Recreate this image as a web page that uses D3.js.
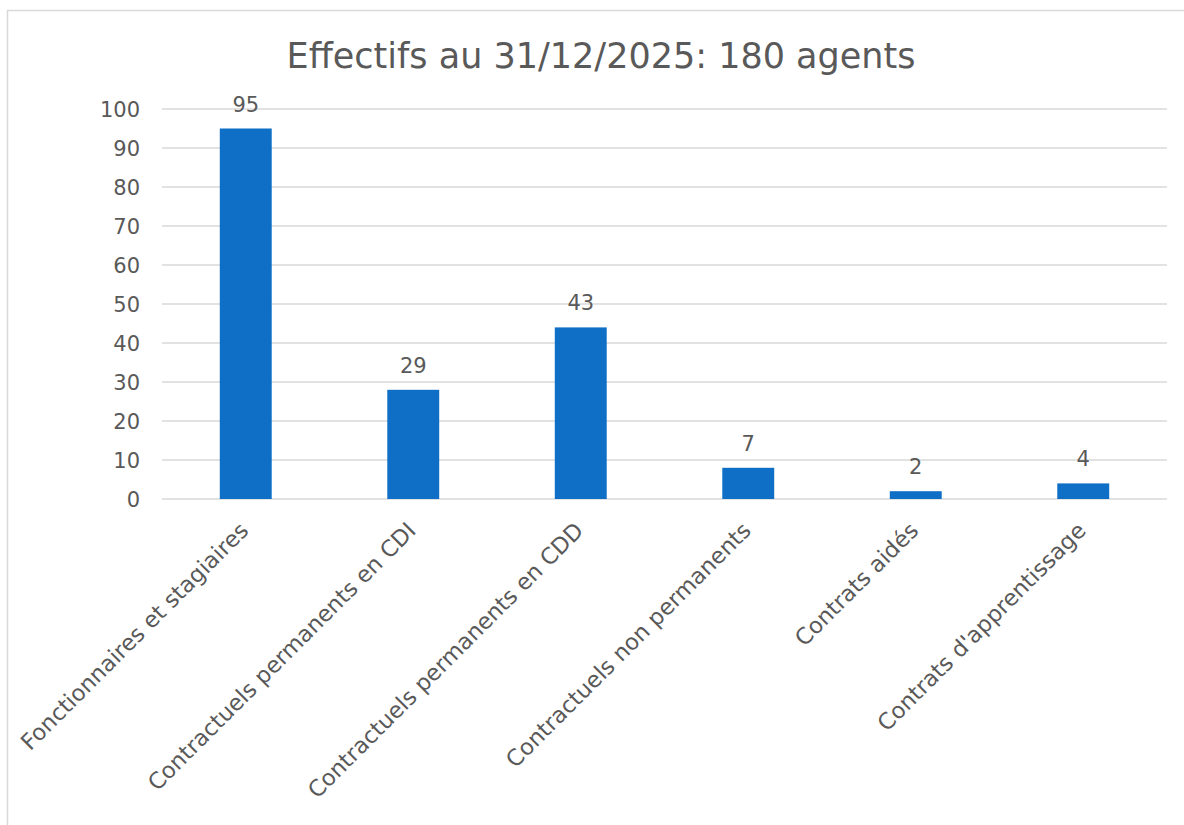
<!DOCTYPE html>
<html>
<head>
<meta charset="utf-8">
<script src="https://cdn.jsdelivr.net/npm/d3@7"></script>
<style>
  body { margin: 0; background: #fff; }
  text { font-family: "DejaVu Sans", sans-serif; fill: #595959; }
</style>
</head>
<body>
<svg id="chart" width="1184" height="825"></svg>
<script>
const categories = [
  "Fonctionnaires et stagiaires",
  "Contractuels permanents en CDI",
  "Contractuels permanents en CDD",
  "Contractuels non permanents",
  "Contrats aidés",
  "Contrats d'apprentissage"
];
// bar heights as drawn, and the data labels printed above them
const values = [95, 28, 44, 8, 2, 4];
const labels = [95, 29, 43, 7, 2, 4];
const yTicks = [0, 10, 20, 30, 40, 50, 60, 70, 80, 90, 100];
const title = "Effectifs au 31/12/2025: 180 agents";

const svg = d3.select("#chart");

// chart frame
svg.append("rect")
  .attr("x", 7.5).attr("y", 10.5)
  .attr("width", 1200).attr("height", 900)
  .attr("fill", "#fff")
  .attr("stroke", "#d9d9d9")
  .attr("stroke-width", 1.5);

const x = d3.scaleBand()
  .domain(categories)
  .range([162, 1167])
  .paddingInner(0.69)
  .paddingOuter(0.345);

const y = d3.scaleLinear()
  .domain([0, 100])
  .range([499, 109]);

// gridlines
svg.append("g")
  .selectAll("line")
  .data(yTicks)
  .join("line")
  .attr("x1", 162).attr("x2", 1167)
  .attr("y1", d => y(d)).attr("y2", d => y(d))
  .attr("stroke", "#d9d9d9")
  .attr("stroke-width", 1.5);

// y tick labels
svg.append("g")
  .selectAll("text")
  .data(yTicks)
  .join("text")
  .attr("x", 140)
  .attr("y", d => y(d))
  .attr("dy", "0.37em")
  .attr("text-anchor", "end")
  .attr("font-size", "21px")
  .text(d => d);

// bars
svg.append("g")
  .selectAll("rect")
  .data(values)
  .join("rect")
  .attr("x", (d, i) => x(categories[i]))
  .attr("y", d => y(d))
  .attr("width", x.bandwidth())
  .attr("height", d => y(0) - y(d))
  .attr("fill", "#0f6fc6");

// data labels
svg.append("g")
  .selectAll("text")
  .data(labels)
  .join("text")
  .attr("x", (d, i) => x(categories[i]) + x.bandwidth() / 2)
  .attr("y", (d, i) => y(values[i]) - 17)
  .attr("text-anchor", "middle")
  .attr("font-size", "21px")
  .text(d => d);

// category labels, rotated
svg.append("g")
  .selectAll("text")
  .data(categories)
  .join("text")
  .attr("transform", d => `translate(${x(d) + x.bandwidth() / 2 + 4},532) rotate(-45)`)
  .attr("text-anchor", "end")
  .attr("font-size", "22.5px")
  .text(d => d);

// title
svg.append("text")
  .attr("x", 601)
  .attr("y", 68)
  .attr("text-anchor", "middle")
  .attr("font-size", "35px")
  .text(title);
</script>
</body>
</html>
